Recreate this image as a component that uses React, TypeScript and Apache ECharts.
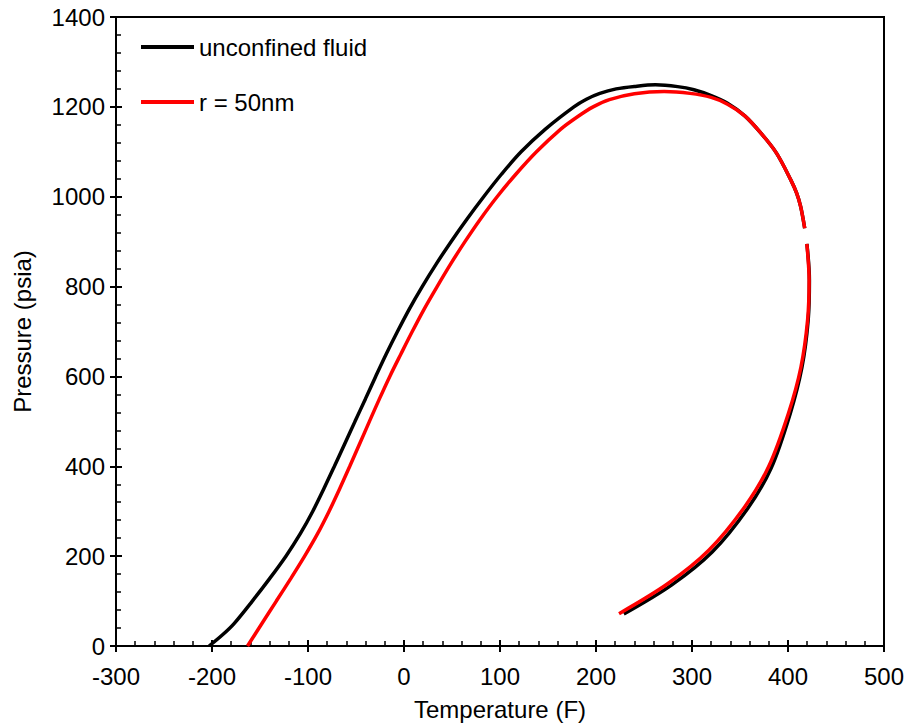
import React, { useEffect, useRef } from "react";
import * as echarts from "echarts";

const FONT = "'Liberation Sans', Arial, sans-serif";

const seriesNames = ["unconfined fluid", "r = 50nm"];

const xTicks = { min: -300, max: 500, interval: 100 };
const yTicks = { min: 0, max: 1400, interval: 200 };

// unconfined fluid: temperature (F) and pressure (psia); NaN marks the break near the critical point
const unconfinedT = [-203, -189, -177, -158, -140, -123, -108, -95, -83.5, -72.5, -61.7, -51, -40.2, -29.5, -18.5, -6.8, 5.5, 19, 33.5, 49, 65.5, 83, 101.5, 122, 147, 177, 190, 204, 221, 240, 262, 285, 302, 320, 337, 355, 372, 388, 403, 409, 413.2, 417.4, NaN, 419.7, 422.3, 421, 414.5, 402, 382.5, 358, 321, 279, 229];
const unconfinedP = [0, 25, 50, 100, 150, 200, 250, 300, 350, 400, 450, 500, 550, 600, 650, 700, 750, 800, 850, 900, 950, 1000, 1050, 1100, 1150, 1200, 1217, 1230, 1240, 1245.5, 1249, 1245, 1238, 1225, 1208, 1180, 1141, 1097, 1037, 1008, 978, 930, NaN, 895, 814, 725, 620, 515, 396, 306, 209, 136, 71];

// r = 50nm
const confinedT = [-163, -148, -133, -118, -103.5, -90, -78, -67, -56.5, -46.2, -36, -25.6, -14.8, -3.2, 8.6, 21, 34.5, 48.5, 63.5, 79.5, 97, 116.5, 138, 163, 180, 197, 214, 240, 271, 298, 320, 337, 355, 372, 388, 403, 409, 413.2, 417.4, NaN, 419.6, 422, 420.4, 413.5, 400.5, 380, 355, 317.5, 275, 224];
const confinedP = [0, 50, 100, 150, 200, 250, 300, 350, 400, 450, 500, 550, 600, 650, 700, 750, 800, 850, 900, 950, 1000, 1050, 1100, 1150, 1177, 1200, 1216, 1229, 1234, 1230, 1221, 1206, 1180, 1141, 1097, 1037, 1008, 978, 930, NaN, 895, 814, 725, 621, 518, 400, 310, 213, 139, 72];

const toPairs = (xs: number[], ys: number[]) =>
  xs.map((x, i) => (isNaN(x) || isNaN(ys[i]) ? ["-", "-"] : [x, ys[i]]));

export default function App() {
  const ref = useRef<HTMLDivElement>(null);
  useEffect(() => {
    if (!ref.current) return;
    const chart = echarts.init(ref.current, null, { renderer: "svg" });
    const txt = { fontFamily: FONT, fontSize: 24, color: "#000" };
    const baseX = {
      type: "value" as const,
      min: xTicks.min,
      max: xTicks.max,
      interval: xTicks.interval,
      splitLine: { show: false },
    };
    const baseY = {
      type: "value" as const,
      min: yTicks.min,
      max: yTicks.max,
      interval: yTicks.interval,
      splitLine: { show: false },
    };
    const plain = (v: number) => String(v);
    chart.setOption({
      animation: false,
      backgroundColor: "#fff",
      grid: {
        left: 116,
        top: 17,
        width: 768,
        height: 629,
        show: true,
        borderColor: "#000",
        borderWidth: 2,
        containLabel: false,
        outerBoundsMode: "none",
      },
      legend: {
        orient: "vertical",
        left: 136,
        top: 30,
        icon: "rect",
        itemWidth: 53,
        itemHeight: 4,
        itemGap: 31,
        textStyle: { ...txt, lineHeight: 24 },
        data: seriesNames,
      },
      xAxis: [
        {
          ...baseX,
          position: "bottom",
          name: "Temperature (F)",
          nameLocation: "middle",
          nameGap: 51,
          nameTextStyle: txt,
          axisLine: { show: true, onZero: false, lineStyle: { color: "#000", width: 2 } },
          axisTick: { show: true, inside: true, length: 6, lineStyle: { color: "#000", width: 2 } },
          minorTick: { show: true, splitNumber: 5, length: 5, lineStyle: { color: "#000", width: 1.5 } },
          axisLabel: { ...txt, margin: 18, formatter: plain },
        },
        {
          ...baseX,
          position: "bottom",
          offset: 0,
          axisLine: { show: false, onZero: false },
          axisTick: { show: true, inside: false, length: 6, lineStyle: { color: "#000", width: 2 } },
          axisLabel: { show: false },
        },
      ],
      yAxis: [
        {
          ...baseY,
          position: "left",
          name: "Pressure (psia)",
          nameLocation: "middle",
          nameGap: 82,
          nameTextStyle: txt,
          axisLine: { show: true, onZero: false, lineStyle: { color: "#000", width: 2 } },
          axisTick: { show: true, inside: true, length: 6, lineStyle: { color: "#000", width: 2 } },
          minorTick: { show: true, splitNumber: 5, length: 5, lineStyle: { color: "#000", width: 1.5 } },
          axisLabel: { ...txt, margin: 11, formatter: plain },
        },
        {
          ...baseY,
          position: "left",
          offset: 0,
          axisLine: { show: false, onZero: false },
          axisTick: { show: true, inside: false, length: 6, lineStyle: { color: "#000", width: 2 } },
          axisLabel: { show: false },
        },
      ],
      series: [
        {
          name: seriesNames[0],
          type: "line",
          xAxisIndex: 0,
          yAxisIndex: 0,
          data: toPairs(unconfinedT, unconfinedP),
          smooth: 0.33,
          symbol: "none",
          connectNulls: false,
          lineStyle: { color: "#000", width: 3.5 },
          itemStyle: { color: "#000" },
        },
        {
          name: seriesNames[1],
          type: "line",
          xAxisIndex: 0,
          yAxisIndex: 0,
          data: toPairs(confinedT, confinedP),
          smooth: 0.33,
          symbol: "none",
          connectNulls: false,
          lineStyle: { color: "#ff0000", width: 3.5 },
          itemStyle: { color: "#ff0000" },
        },
      ],
    });
    return () => chart.dispose();
  }, []);
  return (
    <div
      ref={ref}
      style={{ position: "fixed", left: 0, top: 0, width: 905, height: 723, background: "#fff" }}
    />
  );
}
